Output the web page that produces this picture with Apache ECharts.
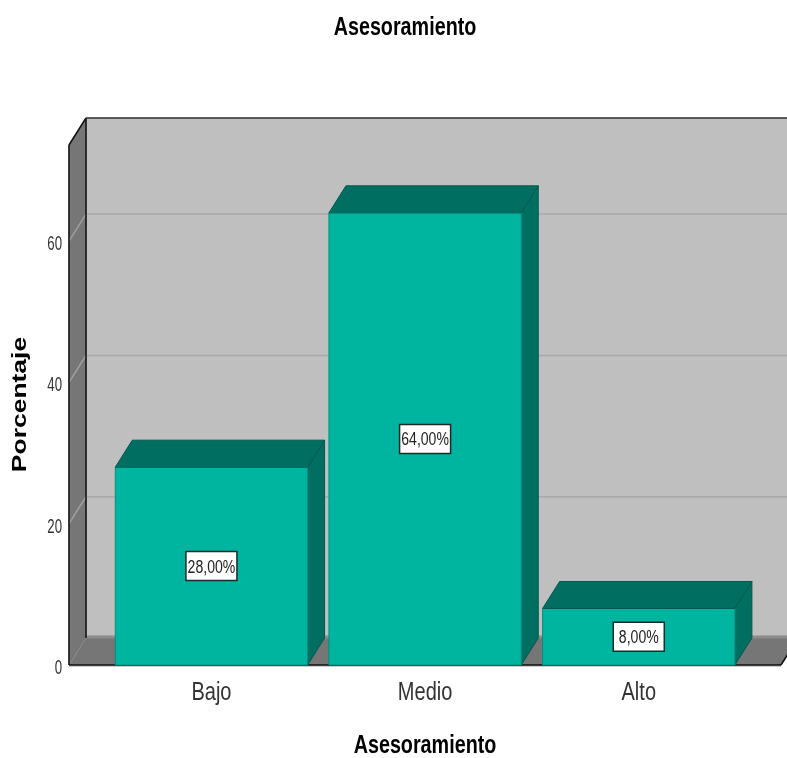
<!DOCTYPE html>
<html>
<head>
<meta charset="utf-8">
<style>html,body{margin:0;padding:0;background:#fff}#chart{width:787px;height:758px}</style>
<script src="https://cdn.jsdelivr.net/npm/echarts@6/dist/echarts.min.js"></script>
</head>
<body>
<div id="chart"></div>
<script>
// Porcentaje por nivel de asesoramiento
const categories = ['Bajo', 'Medio', 'Alto'];
const percentages = [28, 64, 8];
const yTicks = [0, 20, 40, 60];
const titleText = 'Asesoramiento';
const xName = 'Asesoramiento';
const yName = 'Porcentaje';

// Extrusion of the 3D box, in pixels
const DX = 17, DY = -27;
const WALL_OFFSET = 35.6;   // distance from the first band edge to the left wall
const RIGHT_EDGE = 781;     // front right corner of the floor
const FONT = '"Liberation Sans", Arial, sans-serif';

const FRONT = '#00B5A0', SHADE = '#006F62', WALL = '#BFBFBF', DARK_WALL = '#767676';

function poly(points, fill, stroke, width) {
  return { type: 'polygon', shape: { points }, style: { fill, stroke: stroke || fill, lineWidth: width === undefined ? 1 : width } };
}
function seg(a, b, stroke, width) {
  return { type: 'line', shape: { x1: a[0], y1: a[1], x2: b[0], y2: b[1] }, style: { stroke, lineWidth: width || 1 } };
}
// Text squeezed horizontally around its anchor, the look of the condensed labels
function label(text, x, y, font, fill, scaleX, align) {
  return { type: 'text', x, y, scaleX, style: { text, font, fill, align: align || 'center', verticalAlign: 'middle' } };
}

// Back wall, left wall, floor, gridlines and the axis labels around them
function renderWalls(params, api) {
  const cs = params.coordSys;
  const left = cs.x - WALL_OFFSET;
  const y0 = api.coord([0, 0])[1];
  const top = cs.y;
  const bx = left + DX;
  const children = [
    poly([[bx, top + DY], [800, top + DY], [800, y0 + DY], [bx, y0 + DY]], WALL),
    poly([[left, top], [bx, top + DY], [bx, y0 + DY], [left, y0]], DARK_WALL),
    poly([[left, y0], [bx, y0 + DY], [RIGHT_EDGE + DX, y0 + DY], [RIGHT_EDGE, y0]], DARK_WALL)
  ];
  yTicks.forEach(t => {
    const y = api.coord([0, t])[1];
    if (t === 0) {
      children.push(seg([bx, y + DY - 1], [800, y + DY - 1], '#8C8C8C', 3));
      children.push(seg([left, y], [bx, y + DY], '#8C8C8C', 1));
    } else {
      children.push(seg([bx, y + DY], [800, y + DY], '#A8A8A8', 1.5));
      children.push(seg([left, y], [bx, y + DY], '#A0A0A0', 1.5));
    }
    children.push(label(String(t), left - 7, y + 3.5, '19.5px ' + FONT, '#333', 0.68, 'right'));
  });
  categories.forEach((name, i) => {
    const p = api.coord([i, 0]);
    children.push(label(name, p[0], p[1] + 28, '26px ' + FONT, '#333', 0.77));
  });
  children.push(
    seg([left, top], [left, y0], '#111', 1.5),
    seg([bx, top + DY], [bx, y0 + DY], '#111', 1.5),
    seg([left, top], [bx, top + DY], '#111', 1.5),
    seg([bx, top + DY], [800, top + DY], '#333', 1.5),
    seg([left, y0 + 1], [RIGHT_EDGE, y0 + 1], '#CCCCCC', 2),
    seg([left, y0], [RIGHT_EDGE, y0], '#111', 1.5),
    seg([RIGHT_EDGE, y0], [RIGHT_EDGE + DX, y0 + DY], '#111', 1.5)
  );
  return { type: 'group', children };
}

// One extruded bar with its value box in the middle of the front face
function renderBar(params, api) {
  const value = api.value(1);
  const c = api.coord([api.value(0), value]);
  const base = api.coord([api.value(0), 0]);
  const w = api.size([1, 0])[0] * 0.9;
  const l = c[0] - w / 2, r = c[0] + w / 2;
  const t = c[1], b = base[1];
  return {
    type: 'group',
    children: [
      poly([[r, t], [r + DX, t + DY], [r + DX, b + DY], [r, b]], SHADE, '#00594F'),
      poly([[l, t], [l + DX, t + DY], [r + DX, t + DY], [r, t]], SHADE, '#00594F'),
      poly([[l, t], [r, t], [r, b], [l, b]], FRONT, '#008F7F'),
      seg([l, t], [r, t], '#00594F', 1),
      {
        type: 'rect',
        shape: { x: c[0] - 25.5, y: (t + b) / 2 - 14.5, width: 51, height: 29 },
        style: { fill: '#fff', stroke: '#1A2A2A', lineWidth: 1.5 }
      },
      label(value.toFixed(2).replace('.', ',') + '%', c[0], (t + b) / 2 + 1.5, '18px ' + FONT, '#222', 0.78)
    ]
  };
}

const chart = echarts.init(document.getElementById('chart'), null, { renderer: 'canvas' });
chart.setOption({
  animation: false,
  backgroundColor: '#fff',
  grid: { left: 104.6, width: 641, top: 145, bottom: 93, outerBoundsMode: 'none' },
  xAxis: {
    type: 'category', data: categories,
    axisLine: { show: false }, axisTick: { show: false }, axisLabel: { show: false }
  },
  yAxis: {
    type: 'value', min: 0, max: 73.6, interval: 20,
    axisLine: { show: false }, axisTick: { show: false }, splitLine: { show: false }, axisLabel: { show: false }
  },
  // Title and axis names, stretched the way the rest of the lettering is
  graphic: [
    { type: 'text', x: 405, y: 28, scaleX: 0.79, style: { text: titleText, font: 'bold 25px ' + FONT, fill: '#000', align: 'center', verticalAlign: 'middle' } },
    { type: 'text', x: 425, y: 746, scaleX: 0.79, style: { text: xName, font: 'bold 25px ' + FONT, fill: '#000', align: 'center', verticalAlign: 'middle' } },
    { type: 'text', x: 20, y: 404.5, rotation: Math.PI / 2, scaleX: 1.26, style: { text: yName, font: 'bold 21px ' + FONT, fill: '#000', align: 'center', verticalAlign: 'middle' } }
  ],
  series: [
    { type: 'custom', z: 1, silent: true, renderItem: renderWalls, data: [[0, 0]], encode: { x: 0, y: 1 } },
    { type: 'custom', z: 2, renderItem: renderBar, data: percentages.map((v, i) => [i, v]), encode: { x: 0, y: 1 } }
  ]
});
</script>
</body>
</html>
